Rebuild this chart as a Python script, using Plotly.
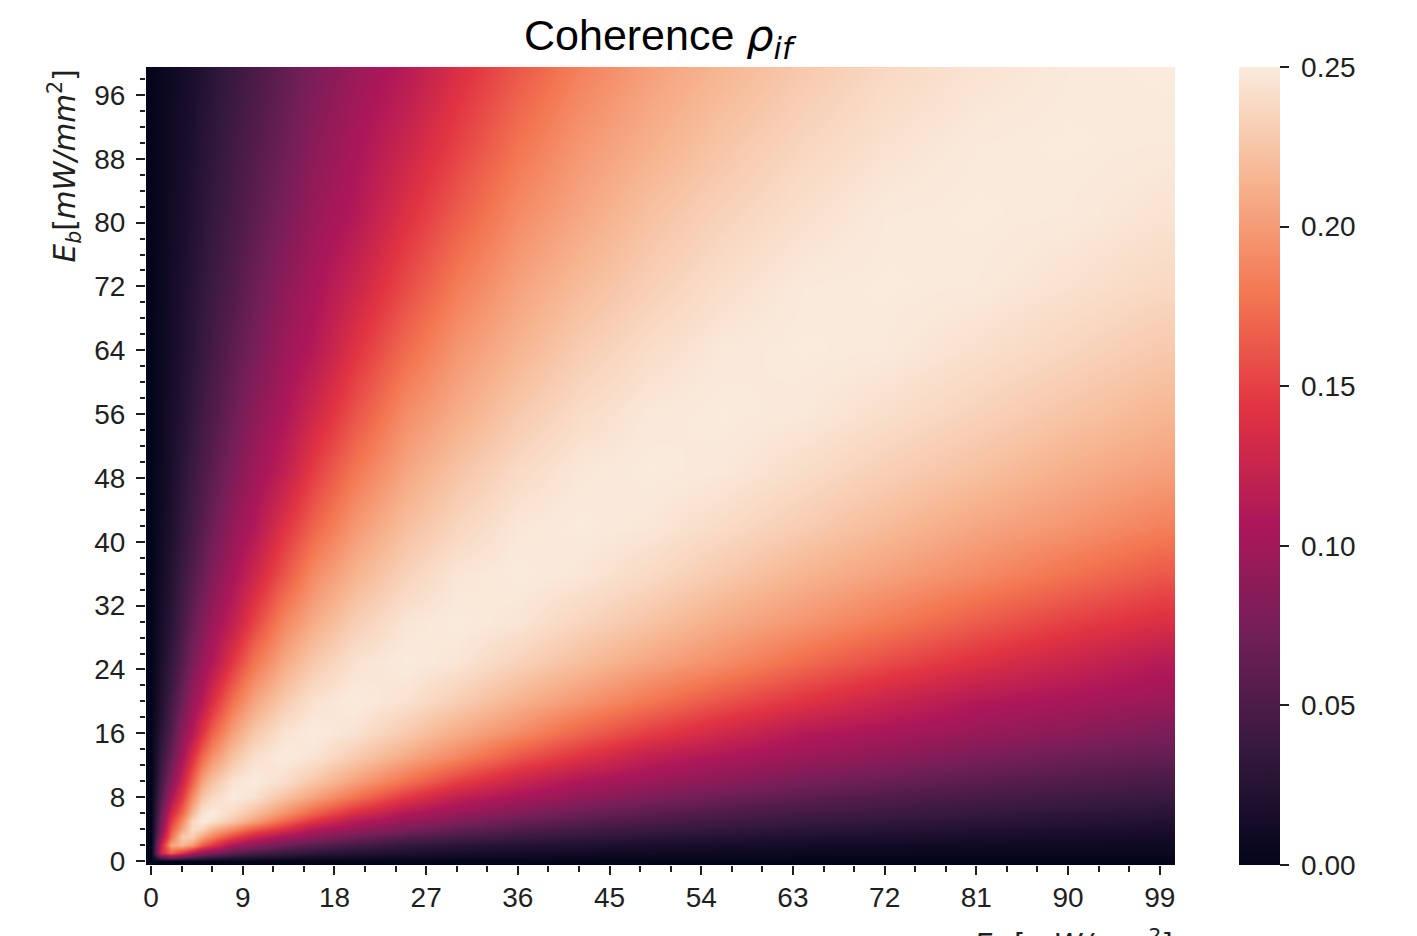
import numpy as np
import plotly.graph_objects as go

x_nodes = [0, 1, 2, 3, 4, 5, 6, 8, 10, 13, 16, 20, 25, 30, 36, 42, 49, 56, 64, 72, 81, 90, 99]
y_nodes = [0, 1, 2, 3, 4, 5, 6, 8, 10, 13, 16, 20, 25, 30, 36, 42, 49, 56, 64, 72, 81, 90, 99]

# Coherence estimates in thousandths; each row is one y node
row_000 = [0] * 23
row_001 = [0,130,165,140,110,90,78,58,48,37,30,24,19,16,13,11,10,8,7,6,6,5,5]
row_002 = [0,125,205,215,200,165,145,105,90,70,57,45,34,28,23,20,16,14,12,11,10,9,8]
row_003 = [0,100,175,230,230,205,185,150,125,102,88,70,56,47,39,33,28,24,20,18,16,14,12]
row_004 = [0,85,160,205,240,235,215,190,165,138,110,96,77,64,53,45,39,33,29,26,22,19,17]
row_005 = [0,75,145,190,235,250,245,225,204,171,141,112,96,81,67,57,49,43,37,33,29,26,22]
row_006 = [0,70,130,170,215,245,250,238,222,195,167,137,109,96,81,69,59,51,45,40,35,31,28]
row_008 = [0,55,105,145,190,225,238,250,244,224,204,177,145,120,104,92,79,69,60,53,47,43,38]
row_010 = [0,45,85,125,165,204,222,244,250,242,226,204,177,150,126,108,97,87,75,67,59,53,48]
row_013 = [0,36,65,102,138,171,195,224,242,250,245,229,208,188,161,141,119,107,97,88,77,69,63]
row_016 = [0,28,52,88,110,141,167,204,226,245,250,244,228,210,191,169,148,130,112,104,95,87,78]
row_020 = [0,22,43,70,96,112,137,177,204,229,244,250,244,231,214,198,179,160,142,126,111,104,97]
row_025 = [0,18,34,56,77,96,109,145,177,208,228,244,250,246,234,221,206,192,173,156,140,126,113]
row_030 = [0,15,28,47,64,81,96,120,150,188,210,231,246,250,246,236,224,210,197,182,165,150,138]
row_036 = [0,12,23,39,53,67,81,104,126,161,191,214,234,246,250,247,239,228,215,204,191,177,163]
row_042 = [0,10,20,33,45,57,69,92,108,141,169,198,221,236,247,250,247,240,230,219,207,197,185]
row_049 = [0,9,17,28,39,49,59,79,97,119,148,179,206,224,239,247,250,248,241,232,223,212,203]
row_056 = [0,8,15,24,33,43,51,69,87,107,130,160,192,210,228,240,248,250,248,242,234,225,216]
row_064 = [0,7,13,20,29,37,45,60,75,97,112,142,173,197,215,230,241,248,250,249,243,236,228]
row_072 = [0,6,12,18,26,33,40,53,67,88,104,126,156,182,204,219,232,242,249,250,249,244,238]
row_081 = [0,5,11,16,22,29,35,47,59,77,95,111,140,165,191,207,223,234,243,249,250,249,245]
row_090 = [0,5,10,14,19,26,31,43,53,69,87,104,126,150,177,197,212,225,236,244,249,250,249]
row_099 = [0,5,9,12,17,22,28,38,48,63,78,97,113,138,163,185,203,216,228,238,245,249,250]

rows = [row_000, row_001, row_002, row_003, row_004, row_005, row_006, row_008, row_010,
        row_013, row_016, row_020, row_025, row_030, row_036, row_042, row_049, row_056,
        row_064, row_072, row_081, row_090, row_099]

x_ticks = [0, 9, 18, 27, 36, 45, 54, 63, 72, 81, 90, 99]
y_ticks = [0, 8, 16, 24, 32, 40, 48, 56, 64, 72, 80, 88, 96]
cbar_ticks = [0.0, 0.05, 0.10, 0.15, 0.20, 0.25]

rocket = [[0, "#03051a"], [1/7, "#35193e"], [2/7, "#701f57"], [3/7, "#ad1759"],
          [4/7, "#e13342"], [5/7, "#f37651"], [6/7, "#f6b48f"], [1, "#faebdd"]]

FONT = "Liberation Sans"
MATH = "DejaVu Sans"
INK = "#1f1f1f"
TICK = 28

fig = go.Figure(go.Heatmap(
    x=[v + 0.5 for v in x_nodes],
    y=[v + 0.5 for v in y_nodes],
    z=np.array(rows) / 1000,
    zmin=0, zmax=0.25, zsmooth="best", colorscale=rocket,
    colorbar=dict(
        thicknessmode="pixels", thickness=41, x=(1239 - 146) / 1029, xanchor="left", xpad=0,
        y=0.5, yanchor="middle", len=1, ypad=0, outlinewidth=0,
        tickvals=cbar_ticks, ticktext=[f"\u2005{v:.2f}" for v in cbar_ticks],
        ticks="outside", ticklen=9, tickwidth=1.5, tickcolor=INK,
        tickfont=dict(family=FONT, size=TICK, color=INK),
    ),
))

axis_common = dict(ticks="outside", ticklen=9, tickwidth=1.5, tickcolor=INK, showgrid=False,
                   zeroline=False, showline=False, tickfont=dict(family=FONT, size=TICK, color=INK))

fig.update_layout(
    width=1417, height=936, margin=dict(l=146, r=242, t=67, b=71, autoexpand=False),
    paper_bgcolor="white", plot_bgcolor="white",
    xaxis=dict(range=[0, 101], tickmode="array", tickvals=[v + 0.5 for v in x_ticks],
               ticktext=[str(v) for v in x_ticks], ticklabelstandoff=-2,
               minor=dict(tickvals=[i + 0.5 for i in range(0, 101, 3)], ticklen=5.5, tickwidth=1.5,
                          tickcolor=INK, ticks="outside"), **axis_common),
    yaxis=dict(range=[0, 100], tickmode="array", tickvals=[v + 0.5 for v in y_ticks],
               ticktext=[str(v) for v in y_ticks], ticklabelstandoff=5,
               minor=dict(tickvals=[i + 0.5 for i in range(0, 100, 2)], ticklen=5.5, tickwidth=1.5,
                          tickcolor=INK, ticks="outside"), **axis_common),
    annotations=[
        dict(text=f"Coherence <span style='font-family:{MATH}'><i>ρ<sub>if</sub></i></span>",
             xref="paper", yref="paper", x=0.5, y=1, yanchor="bottom", xanchor="center", yshift=-1,
             showarrow=False, font=dict(family=FONT, size=43, color="black")),
        dict(text="<i>E<sub>b</sub></i>[<i>mW/mm</i><sup>2</sup>]",
             xref="paper", yref="paper", x=0, y=1, xanchor="center", yanchor="top",
             xshift=-81, yshift=-1, textangle=-90, showarrow=False,
             font=dict(family=MATH, size=29.5, color=INK)),
        dict(text="<i>E<sub>a</sub></i> [<i>mW/mm</i><sup>2</sup>]",
             xref="paper", yref="paper", x=1, y=0, xanchor="right", yanchor="top",
             xshift=0, yshift=-56, showarrow=False,
             font=dict(family=MATH, size=29, color=INK)),
    ],
)

fig.write_html("out.html", config={"displayModeBar": False},
               post_script="document.body.style.margin='0';document.documentElement.style.overflow='hidden';")
